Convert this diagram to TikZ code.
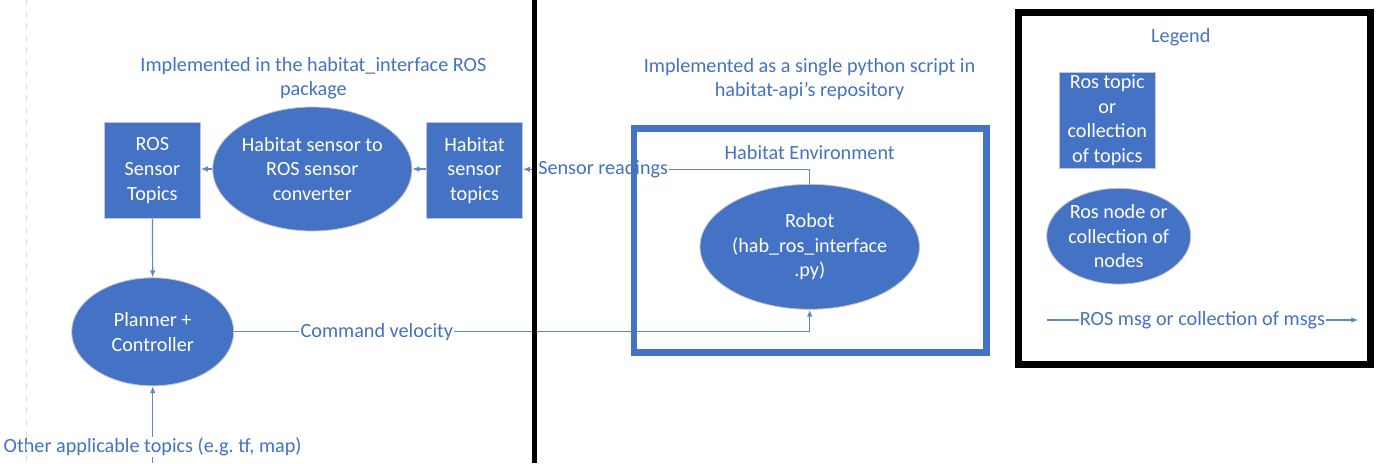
\documentclass[tikz,border=0pt]{standalone}
\usepackage{fontspec}
\setmainfont{Carlito}
\usetikzlibrary{arrows.meta, shapes.geometric, positioning}
\definecolor{msblue}{HTML}{4472C4}

\begin{document}
\begin{tikzpicture}[
  x=0.5pt, y=-0.5pt,
  font=\fontsize{10.1}{12.3}\selectfont,
  >={Latex[length=3.5pt,width=2.8pt]},
  topic/.style={draw=gray!45, line width=0.4pt, fill=msblue, text=white, align=center, inner sep=0pt, minimum width=48pt, minimum height=48pt},
  rosnode/.style={ellipse, draw=gray!45, line width=0.4pt, fill=msblue, text=white, align=center, inner sep=0pt},
  msg/.style={->, draw=msblue!85, line width=0.6pt},
  msglabel/.style={fill=white, text=msblue, inner sep=0.6pt},
  heading/.style={text=msblue, align=center},
  boxframe/.style={line width=3.35pt}
]
\fill[white] (0,0) rectangle (1390,463);
\useasboundingbox (0,0) rectangle (1390,463);

% headings
\node[heading] (ifacehead) at (313.4,78.3) {Implemented in the habitat\_interface ROS\\package};
\node[heading] (scripthead) at (809.5,79.2) {Implemented as a single python script in\\habitat-api’s repository};
\node[heading] (envhead) at (809.7,152.7) {Habitat Environment};
\node[heading] (legendhead) at (1180.8,37.7) {Legend};

% ROS side
\node[topic] (rostopics) at (152.4,170.5) {ROS\\Sensor\\Topics};
\node[rosnode, minimum width=93.3pt, minimum height=62pt] (converter) at (312.3,169) {Habitat sensor to\\ROS sensor\\converter};
\node[topic] (habtopics) at (474.5,170.5) {Habitat\\sensor\\topics};
\node[rosnode, minimum width=81pt, minimum height=54pt] (planner) at (152.7,331.8) {Planner +\\Controller};

% habitat side
\node[rosnode, minimum width=93.6pt, minimum height=62.5pt] (robot) at (809.7,246.8) {Robot\\(hab\_ros\_interface\\.py)};

% legend
\node[topic] (legtopic) at (1107.3,120.3) {Ros topic\\or\\collection\\of topics};
\node[rosnode, minimum width=72pt, minimum height=47.9pt] (legnode) at (1118.7,236.2) {Ros node or\\collection of\\nodes};
\coordinate (legfrom) at (1046.7,320);
\coordinate (legto) at (1358.3,320);
\coordinate (othersrc) at (152.7,463);

\draw[msg] (converter.west) -- (rostopics.east |- converter.west);
\draw[msg] (habtopics.west |- converter.east) -- (converter.east);
\draw[msg] (robot.north) |- node[msglabel, pos=0.86] {Sensor readings} (habtopics.east |- 0,169.3);
\draw[msg] (rostopics.south) -- (planner.north);
\draw[msg] (planner.east) -| node[msglabel, pos=0.124] {Command velocity} (robot.south);
\draw[msg] (othersrc) -- node[msglabel, pos=0.21] {Other applicable topics (e.g.\ tf, map)} (planner.south);
\draw[msg] (legfrom) -- node[msglabel] {ROS msg or collection of msgs} (legto);

% frames and dividers
\draw[msblue, boxframe] (634,128.3) rectangle (986.3,352.7);
\draw[boxframe] (1018.5,12.2) rectangle (1370.7,364.7);
\draw[line width=2.5pt] (534.3,0) -- (534.3,463);
\draw[gray!25, dashed, line width=0.5pt] (26.5,0) -- (26.5,463);
\end{tikzpicture}
\end{document}
